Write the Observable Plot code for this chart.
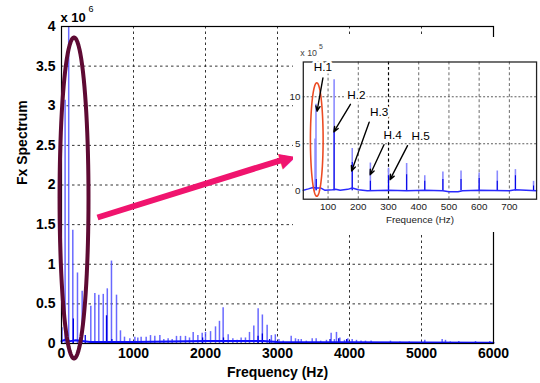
<!DOCTYPE html>
<html><head><meta charset="utf-8">
<script src="https://cdn.jsdelivr.net/npm/d3@7"></script>
<script src="https://cdn.jsdelivr.net/npm/@observablehq/plot@0.6"></script>
<style>
html,body{margin:0;padding:0;width:540px;height:383px;overflow:hidden;background:#fff;}
#wrap{position:relative;width:540px;height:383px;overflow:hidden;}
#main{position:absolute;left:0;top:0;}
#insetBox{position:absolute;left:293px;top:37px;width:247px;height:195px;background:#fff;}
#inset{position:absolute;left:293px;top:37px;}
</style></head><body>
<div id="wrap"><div id="main"></div><div id="insetBox"></div><div id="inset"></div></div>
<script>
// ---------- main chart data (amplitude in units of 1e6) ----------
const xTicks = [0, 1000, 2000, 3000, 4000, 5000, 6000];
const yTicks = [0, 0.5, 1, 1.5, 2, 2.5, 3, 3.5, 4];
const mainFreq = [8,50,100,157,222,287,407,463,518,580,636,694,764,819,875,949,1019,1060,1106,1176,1236,1296,1366,1421,1481,1537,1597,1653,1722,1778,1829,1894,1954,2000,2070,2139,2194,2245,2315,2380,2440,2495,2555,2611,2671,2731,2790,2856,2915,2970,3020,3080,3190,3250,3290,3330,3400,3482,3537,3600,3680,3745,3790,3819,3866,3930,3977,4037,4097,4160,4222,4300,4569,4700,4830,5046,5287,5333,5400,5518,5750,5949];
const mainAmp  = [0.2,3.07,4.0,1.43,0.89,0.66,0.47,0.63,0.61,0.62,0.69,1.04,0.61,0.16,0.08,0.06,0.08,0.07,0.08,0.08,0.10,0.09,0.10,0.05,0.06,0.05,0.09,0.09,0.09,0.07,0.14,0.10,0.13,0.14,0.15,0.21,0.28,0.45,0.11,0.06,0.04,0.07,0.07,0.14,0.22,0.44,0.36,0.23,0.10,0.11,0.05,0.03,0.09,0.06,0.05,0.05,0.03,0.06,0.06,0.03,0.04,0.13,0.05,0.14,0.07,0.04,0.06,0.05,0.04,0.03,0.03,0.03,0.03,0.02,0.02,0.04,0.05,0.04,0.02,0.025,0.025,0.025];
const mainDarkFreq = [165,330,625,700,1960,2250,2730,2790,2890,3730,3850,3960];
const mainDarkAmp  = [0.31,0.1,0.35,0.05,0.07,0.07,0.09,0.12,0.05,0.05,0.06,0.05];
const floorFreq = [0,60,120,200,400,1000,2000,2800,3000,4000,6000];
const floorAmp  = [0.03,0.05,0.03,0.04,0.02,0.02,0.03,0.03,0.02,0.015,0.01];

// ---------- inset data (amplitude in units of 1e5) ----------
const insetXTicks = [100, 200, 300, 400, 500, 600, 700];
const insetYTicks = [0, 5, 10];
const insetFreq = [57,60,120,180,240,300,360,420,480,540,600,660,720,780];
const insetAmp  = [5.5,9.2,11.8,4.5,2.95,2.4,2.9,1.6,2.0,2.1,1.9,2.1,2.25,1.0];
const insetDarkFreq = [61,120,180,240,300,360,420,480,540,600,660,720,780];
const insetDarkAmp  = [1.2,6.2,3.0,1.0,1.6,1.7,1.0,1.2,1.2,1.3,1.0,1.6,0.5];
const insetBaseFreq = [18,35,50,60,75,90,115,125,140,165,180,200,230,300,360,420,480,500,530,545,600,700,720,790];
const insetBaseAmp  = [0.05,0.2,0.35,0.3,0.3,0.05,0.1,0.15,0.05,0.15,0.3,0.1,0.0,0.05,0.0,0.05,0.0,-0.1,-0.1,0.0,0.05,0.0,0.1,0.0];
const hNames  = ["H.1","H.2","H.3","H.4","H.5"];
const hLabelX = [83,194,269,314,406];
const hLabelY = [13.1,10.2,8.35,5.95,5.75];
const hArrowX1 = [83,174,236,285,363];
const hArrowY1 = [12.0,9.2,7.3,4.9,4.8];
const hArrowX2 = [63.6,119,178,239,305];
const hArrowY2 = [8.46,6.27,2.1,1.7,1.18];

// ---------- annotations (data coordinates) ----------
const maroonEllipse = {cx: 174, cy: 1.836, rx: 201, ry: 2.025};
const redEllipse = {cx: 62.6, cy: 5.45, rx: 21, ry: 6.04};
const pinkArrow = {x1: 500, y1: 1.59, x2: 3250, y2: 2.37};

function ellipsePts(e) {
  const pts = [];
  for (let a = 0; a <= 360; a += 4) {
    const t = a * Math.PI / 180;
    pts.push({x: e.cx + e.rx * Math.cos(t), y: e.cy + e.ry * Math.sin(t)});
  }
  return pts;
}

const FONT = "'Liberation Sans', Arial, Helvetica, sans-serif";
const mainBars = mainFreq.map((f, i) => ({f, a: mainAmp[i]}));
const mainDark = mainDarkFreq.map((f, i) => ({f, a: mainDarkAmp[i]}));
const floor = floorFreq.map((f, i) => ({f, a: floorAmp[i]}));

// geometry for the pink arrow head (mirrors the plot's scales)
const W = 540, H = 383, ML = 61, MR = 47, MT = 26, MB = 40;
const sx = d3.scaleLinear([0, 6000], [ML, W - MR]);
const sy = d3.scaleLinear([0, 4], [H - MB, MT]);
const p0 = [sx(pinkArrow.x1), sy(pinkArrow.y1)], p1 = [sx(pinkArrow.x2), sy(pinkArrow.y2)];
const ddx = p1[0] - p0[0], ddy = p1[1] - p0[1], len = Math.hypot(ddx, ddy);
const ux = ddx / len, uy = ddy / len, headLen = 15;
const base = [p1[0] - ux * headLen, p1[1] - uy * headLen];
const mid = [p1[0] - ux * headLen * 0.55, p1[1] - uy * headLen * 0.55];
const ang = Math.atan2(ddy, ddx) * 180 / Math.PI;
const shaft = [{x1: pinkArrow.x1, y1: pinkArrow.y1, x2: sx.invert(base[0] + ux * 2), y2: sy.invert(base[1] + uy * 2)}];
const head = [{x: sx.invert(mid[0]), y: sy.invert(mid[1])}];

const main = Plot.plot({
  width: W, height: H, marginLeft: ML, marginRight: MR, marginTop: MT, marginBottom: MB,
  style: {fontFamily: FONT, fontSize: "14px", fontWeight: "bold", color: "#000", background: "transparent", overflow: "visible"},
  x: {domain: [0, 6000], ticks: xTicks, tickSize: 0, tickPadding: 5, label: null, tickFormat: d => String(d)},
  y: {domain: [0, 4], ticks: yTicks, tickSize: 0, tickPadding: 6, label: null, tickFormat: d => String(d)},
  marks: [
    Plot.ruleX(xTicks.slice(1, -1), {stroke: "#333", strokeWidth: 1, strokeDasharray: "2.5,3"}),
    Plot.ruleY(yTicks.slice(1, -1), {stroke: "#333", strokeWidth: 1, strokeDasharray: "2.5,3"}),
    Plot.ruleX(mainBars, {x: "f", y1: 0, y2: "a", stroke: "#4f4fff", strokeOpacity: 0.85, strokeWidth: 1.5}),
    Plot.ruleX(mainDark, {x: "f", y1: 0, y2: "a", stroke: "#0000e0", strokeWidth: 1.3}),
    Plot.line(floor, {x: "f", y: "a", stroke: "#1010ff", strokeWidth: 2}),
    Plot.frame({stroke: "#000", strokeWidth: 1.2}),
    Plot.line(ellipsePts(maroonEllipse), {x: "x", y: "y", stroke: "#5e0a33", strokeWidth: 4, curve: "linear"}),
    Plot.link(shaft, {x1: "x1", y1: "y1", x2: "x2", y2: "y2", stroke: "#f0146e", strokeWidth: 6}),
    Plot.text(head, {x: "x", y: "y", text: () => "\u25B6", rotate: ang, fontSize: 21, fill: "#f0146e", fontFamily: "DejaVu Sans", lineAnchor: "middle", textAnchor: "middle", fontWeight: "normal"}),
    Plot.text(["x 10"], {frameAnchor: "top-left", text: d => d, textAnchor: "start", lineAnchor: "bottom", dy: -5, dx: -1, fontSize: 13, fontWeight: "bold"}),
    Plot.text(["6"], {frameAnchor: "top-left", text: d => d, textAnchor: "start", lineAnchor: "bottom", dy: -15, dx: 27, fontSize: 9, fontWeight: "normal"}),
    Plot.text(["Frequency (Hz)"], {frameAnchor: "bottom", text: d => d, lineAnchor: "middle", dy: 29, fontSize: 14, fontWeight: "bold"}),
    Plot.text(["Fx Spectrum"], {frameAnchor: "left", text: d => d, rotate: -90, lineAnchor: "middle", dx: -39, fontSize: 14, fontWeight: "bold"})
  ]
});
document.getElementById("main").appendChild(main);

// ---------- inset ----------
const iSpikes = insetFreq.map((f, i) => ({f, a: insetAmp[i]}));
const iDark = insetDarkFreq.map((f, i) => ({f, a: insetDarkAmp[i]}));
const iBase = insetBaseFreq.map((f, i) => ({f, a: insetBaseAmp[i]}));
const hLab = hNames.map((n, i) => ({n, x: hLabelX[i], y: hLabelY[i]}));
const hArr = hNames.map((n, i) => ({x1: hArrowX1[i], y1: hArrowY1[i], x2: hArrowX2[i], y2: hArrowY2[i]}));

const inset = Plot.plot({
  width: 252, height: 195, marginLeft: 10, marginRight: 4, marginTop: 25, marginBottom: 30,
  style: {fontFamily: FONT, fontSize: "10px", fontWeight: "normal", color: "#222", background: "transparent", overflow: "visible"},
  x: {domain: [18, 790], ticks: insetXTicks, tickSize: 0, tickPadding: 4, label: null, tickFormat: d => String(d)},
  y: {domain: [-0.9, 13.7], ticks: insetYTicks, tickSize: 0, tickPadding: 3, label: null, tickFormat: d => String(d)},
  marks: [
    Plot.ruleX(insetXTicks, {stroke: d => d === 300 ? "#000" : "#555", strokeWidth: d => d === 300 ? 1.2 : 0.9, strokeDasharray: "3,2.5"}),
    Plot.ruleY(insetYTicks.slice(1), {stroke: "#444", strokeWidth: 0.9, strokeDasharray: "2,2"}),
    Plot.ruleX(iSpikes, {x: "f", y1: 0, y2: "a", stroke: "#8a8aff", strokeWidth: 1.6}),
    Plot.ruleX(iDark, {x: "f", y1: 0, y2: "a", stroke: "#0000e6", strokeWidth: 1.1}),
    Plot.line(iBase, {x: "f", y: "a", stroke: "#2a2aff", strokeWidth: 1.5}),
    Plot.frame({stroke: "#222", strokeWidth: 1.3}),
    Plot.line(ellipsePts(redEllipse), {x: "x", y: "y", stroke: "#ec4a22", strokeWidth: 1.6, curve: "linear"}),
    Plot.text(hLab, {x: "x", y: "y", text: "n", fontSize: 12, fill: "#000", stroke: "#fff", strokeWidth: 5, paintOrder: "stroke", lineAnchor: "middle"}),
    Plot.arrow(hArr, {x1: "x1", y1: "y1", x2: "x2", y2: "y2", stroke: "#000", strokeWidth: 1.4, headLength: 6, headAngle: 45}),
    Plot.text(["x 10"], {frameAnchor: "top-left", text: d => d, textAnchor: "start", lineAnchor: "bottom", dy: -6, dx: -3, fontSize: 9, fill: "#444"}),
    Plot.text(["5"], {frameAnchor: "top-left", text: d => d, textAnchor: "start", lineAnchor: "bottom", dy: -13, dx: 16, fontSize: 7, fill: "#444"}),
    Plot.text(["Frequence (Hz)"], {frameAnchor: "bottom", text: d => d, lineAnchor: "middle", dy: 21, fontSize: 10, fill: "#222"})
  ]
});
document.getElementById("inset").appendChild(inset);
</script></body></html>
